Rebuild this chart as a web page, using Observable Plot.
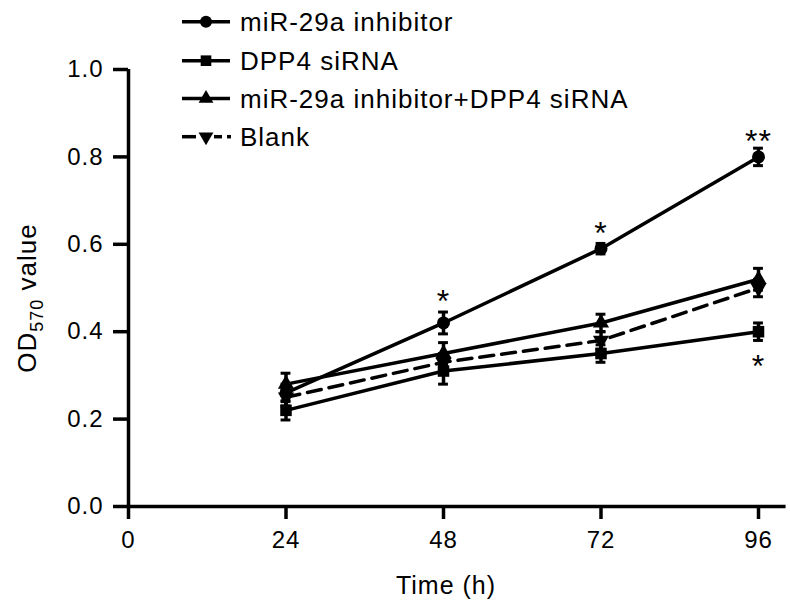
<!DOCTYPE html>
<html>
<head>
<meta charset="utf-8">
<script src="https://cdn.jsdelivr.net/npm/d3@7"></script>
<script src="https://cdn.jsdelivr.net/npm/@observablehq/plot@0.6"></script>
<style>
  html, body { margin: 0; padding: 0; background: #fff; }
  #wrap { position: relative; width: 790px; height: 612px; }
  #legend { position: absolute; left: 0; top: 0; pointer-events: none; }
</style>
</head>
<body>
<div id="wrap"></div>
<script>
// ---- data ----
const times = [24, 48, 72, 96];
const seriesNames = ["miR-29a inhibitor", "DPP4 siRNA", "miR-29a inhibitor+DPP4 siRNA", "Blank"];
const miRInhibitor = [0.26, 0.42, 0.59, 0.80];
const miRInhibitorErr = [0.02, 0.025, 0.012, 0.02];
const dpp4siRNA = [0.22, 0.31, 0.35, 0.40];
const dpp4siRNAErr = [0.022, 0.03, 0.02, 0.02];
const combo = [0.28, 0.35, 0.42, 0.52];
const comboErr = [0.025, 0.025, 0.02, 0.025];
const blank = [0.25, 0.33, 0.38, 0.50];
const blankErr = [0.02, 0.02, 0.02, 0.02];
const xTicks = [0, 24, 48, 72, 96];
const yTicks = [0, 0.2, 0.4, 0.6, 0.8, 1.0];
const starSeries = ["miR-29a inhibitor", "miR-29a inhibitor", "miR-29a inhibitor", "DPP4 siRNA"];
const starTimes = [48, 72, 96, 96];
const starValues = [0.49, 0.645, 0.855, 0.34];
const starLabels = ["*", "*", "**", "*"];
const xAxisEnd = 100.2;

const seriesValues = [miRInhibitor, dpp4siRNA, combo, blank];
const seriesErrs = [miRInhibitorErr, dpp4siRNAErr, comboErr, blankErr];
const rows = [];
seriesNames.forEach((s, i) => times.forEach((t, j) => rows.push({series: s, time: t, v: seriesValues[i][j], e: seriesErrs[i][j]})));
const stars = starLabels.map((l, i) => ({series: starSeries[i], time: starTimes[i], v: starValues[i], label: l}));

const downTriangle = {
  draw(context, size) {
    const y = -Math.sqrt(size / (Math.sqrt(3) * 3));
    context.moveTo(0, -y * 2);
    context.lineTo(-Math.sqrt(3) * y, y);
    context.lineTo(Math.sqrt(3) * y, y);
    context.closePath();
  }
};
const symbolFor = {"miR-29a inhibitor": "circle", "DPP4 siRNA": "square", "miR-29a inhibitor+DPP4 siRNA": "triangle", "Blank": downTriangle};
const rFor = {"miR-29a inhibitor": 6.5, "DPP4 siRNA": 6.5, "miR-29a inhibitor+DPP4 siRNA": 6, "Blank": 6};

const LW = 3.5;
const solid = rows.filter(d => d.series !== "Blank");
const dashed = rows.filter(d => d.series === "Blank");

const marks = [
  Plot.ruleY([0], {x1: 0, x2: xAxisEnd, stroke: "#000", strokeWidth: LW, clip: false}),
  Plot.ruleX([0], {y1: 0, y2: 1, stroke: "#000", strokeWidth: LW}),
  Plot.axisY({ticks: yTicks, tickFormat: d3.format(".1f"), tickSize: 15, tickPadding: 10, fontSize: 24, strokeWidth: LW, label: null}),
  Plot.axisX({ticks: xTicks, tickFormat: d => String(d), tickSize: 13, tickPadding: 11, fontSize: 24, strokeWidth: LW, label: null}),
  Plot.line(solid, {x: "time", y: "v", z: "series", stroke: "#000", strokeWidth: LW}),
  Plot.line(dashed, {x: "time", y: "v", z: "series", stroke: "#000", strokeWidth: LW, strokeDasharray: "14,8"}),
  Plot.ruleX(rows, {x: "time", y1: d => d.v - d.e, y2: d => d.v + d.e, stroke: "#000", strokeWidth: LW}),
  Plot.ruleY(rows, {y: d => d.v + d.e, x1: d => d.time - 0.75, x2: d => d.time + 0.75, stroke: "#000", strokeWidth: 3}),
  Plot.ruleY(rows, {y: d => d.v - d.e, x1: d => d.time - 0.75, x2: d => d.time + 0.75, stroke: "#000", strokeWidth: 3}),
  ...seriesNames.map(s => Plot.dot(rows.filter(d => d.series === s), {x: "time", y: "v", symbol: () => symbolFor[s], r: rFor[s], fill: "#000", stroke: "none"})),
  Plot.text(stars, {x: "time", y: "v", text: "label", fontSize: 32, fill: "#000", dy: 9})
];

const plot = Plot.plot({
  width: 790,
  height: 612,
  marginLeft: 128,
  marginRight: 32,
  marginTop: 69,
  marginBottom: 106,
  x: {domain: [0, 96]},
  y: {domain: [0, 1]},
  symbol: {type: "identity"},
  style: {fontFamily: "'Liberation Sans', Arial, sans-serif", color: "#000", background: "#fff", letterSpacing: "1px"},
  marks
});
document.getElementById("wrap").appendChild(plot);

const svg = d3.select(plot);
// axis titles
svg.append("text")
  .attr("x", 446).attr("y", 594)
  .attr("text-anchor", "middle")
  .attr("font-size", 25)
  .attr("fill", "#000")
  .text("Time (h)");
const yt = svg.append("text")
  .attr("transform", "translate(36,298) rotate(-90)")
  .attr("text-anchor", "middle")
  .attr("font-size", 26)
  .attr("letter-spacing", "1px")
  .attr("fill", "#000");
yt.append("tspan").text("OD");
yt.append("tspan").attr("font-size", 18).attr("dy", 7).text("570");
yt.append("tspan").attr("dy", -7).text(" value");

// legend overlay
const rowY = [21.7, 60.7, 98.5, 136.7];
const leg = d3.select("#wrap").append("svg")
  .attr("id", "legend").attr("width", 790).attr("height", 160)
  .style("font-family", "'Liberation Sans', Arial, sans-serif");
seriesNames.forEach((s, i) => {
  const g = leg.append("g").attr("transform", `translate(0,${rowY[i]})`);
  if (s === "Blank") {
    g.append("line").attr("x1", 182).attr("x2", 196).attr("y1", 0).attr("y2", 0).attr("stroke", "#000").attr("stroke-width", LW);
    g.append("line").attr("x1", 214).attr("x2", 222).attr("y1", 0).attr("y2", 0).attr("stroke", "#000").attr("stroke-width", LW);
    g.append("line").attr("x1", 227).attr("x2", 231).attr("y1", 0).attr("y2", 0).attr("stroke", "#000").attr("stroke-width", LW);
  } else {
    g.append("line").attr("x1", 182).attr("x2", 230).attr("y1", 0).attr("y2", 0).attr("stroke", "#000").attr("stroke-width", LW);
  }
  const sym = symbolFor[s];
  const symType = typeof sym === "string" ? {circle: d3.symbolCircle, square: d3.symbolSquare, triangle: d3.symbolTriangle}[sym] : sym;
  const rr = (s === "miR-29a inhibitor+DPP4 siRNA" || s === "Blank") ? 5.5 : 6;
  g.append("path").attr("transform", "translate(206,0)")
    .attr("d", d3.symbol(symType, Math.PI * rr * rr)())
    .attr("fill", "#000");
  g.append("text").attr("x", 240).attr("y", 9.5)
    .attr("font-size", 26).attr("letter-spacing", "1px").attr("fill", "#000")
    .text(s);
});
</script>
</body>
</html>
